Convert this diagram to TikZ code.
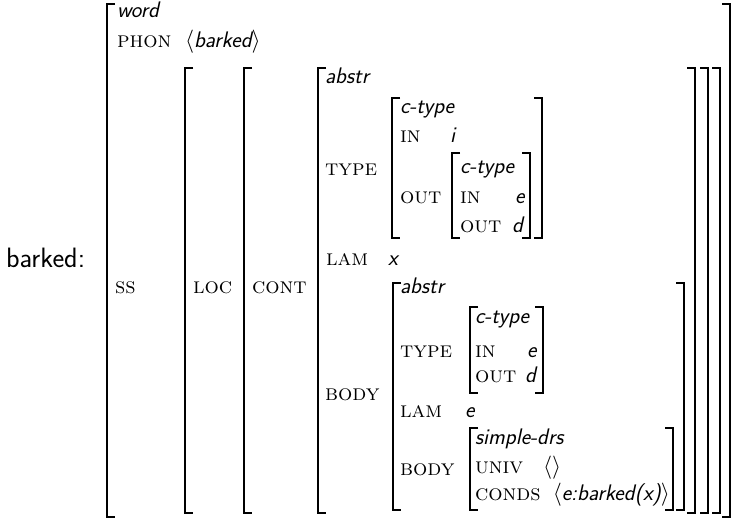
\documentclass[tikz,border=0pt]{standalone}
\usepackage{graphicx}
\DeclareMathSizes{22.5}{20.74}{14.4}{10}
\newcommand\valfont{\fontsize{22.5}{26}\selectfont\sffamily\itshape}
\newcommand\attrfont{\fontsize{22.5}{26}\selectfont\rmfamily\scshape}
\newcommand\lblfont{\fontsize{28}{33}\selectfont\sffamily}
\newcommand\langb{\scalebox{1.12}{$\langle$}}
\newcommand\rangb{\scalebox{1.12}{$\rangle$}}
\tikzset{
  val/.style={anchor=base west, inner sep=0pt, outer sep=0pt, font=\valfont},
  attr/.style={anchor=base west, inner sep=0pt, outer sep=0pt, font=\attrfont},
  lbl/.style={anchor=base west, inner sep=0pt, outer sep=0pt, font=\lblfont},
  brk/.style={line width=1.3pt, line cap=butt, line join=miter},
}
\newcommand\lbr[3]{\draw[brk] (#1+8,#2) -- (#1,#2) -- (#1,#3) -- (#1+8,#3);}
\newcommand\rbr[3]{\draw[brk] (#1-8,#2) -- (#1,#2) -- (#1,#3) -- (#1-8,#3);}
\begin{document}
\begin{tikzpicture}[x=1pt,y=-1pt]
\useasboundingbox (0,0) rectangle (733,519);
% label
\node[lbl] (lab) at (6,267) {barked:};
% brackets
\lbr{107}{4}{517}   \rbr{730}{4}{517}
\lbr{185}{68}{513}  \rbr{720}{68}{513}
\lbr{244}{68}{513}  \rbr{708}{68}{513}
\lbr{318}{68}{513}  \rbr{695}{68}{513}
\lbr{392}{98}{238}  \rbr{542}{98}{238}
\lbr{452}{153}{238} \rbr{530}{153}{238}
\lbr{393}{283}{510} \rbr{684}{283}{510}
\lbr{470}{307}{393} \rbr{543}{307}{393}
\lbr{470}{428}{510} \rbr{673}{428}{510}
% word level
\node[val]  (word)  at (117,18) {word};
\node[attr] (phon)  at (117,48) {phon};
\node[val]  (phonv) at (185,48) {\langb barked\rangb};
\node[attr] (ss)    at (115,293) {ss};
\node[attr] (loc)   at (193,293) {loc};
\node[attr] (cont)  at (252,293) {cont};
% cont value
\node[val]  (abs1)  at (325,83) {abstr};
\node[attr] (type1) at (325,175) {type};
\node[val]  (ct1)   at (400,113) {c-type};
\node[attr] (in1)   at (400,142) {in};
\node[val]  (in1v)  at (450,142) {i};
\node[attr] (out1)  at (400,203) {out};
\node[val]  (ct2)   at (460,173) {c-type};
\node[attr] (in2)   at (460,203) {in};
\node[val]  (in2v)  at (515,203) {e};
\node[attr] (out2)  at (460,232) {out};
\node[val]  (out2v) at (512,232) {d};
\node[attr] (lam1)  at (326,265) {lam};
\node[val]  (lam1v) at (388,265) {x};
\node[attr] (body1) at (325,400) {body};
% body value
\node[val]  (abs2)  at (400,293) {abstr};
\node[attr] (type2) at (400,357) {type};
\node[val]  (ct3)   at (475,323) {c-type};
\node[attr] (in3)   at (475,357) {in};
\node[val]  (in3v)  at (527,357) {e};
\node[attr] (out3)  at (475,382) {out};
\node[val]  (out3v) at (525,382) {d};
\node[attr] (lam2)  at (400,417) {lam};
\node[val]  (lam2v) at (465,417) {e};
\node[attr] (body2) at (400,475) {body};
\node[val]  (drs)   at (475,444) {simple-drs};
\node[attr] (univ)  at (475,473) {univ};
\node[val]  (univv) at (543,473) {\langb\rangb};
\node[attr] (conds) at (475,500) {conds};
\node[val, anchor=base east] (condv) at (670,500) {\langb e:barked(x)\rangb};
\end{tikzpicture}
\end{document}
